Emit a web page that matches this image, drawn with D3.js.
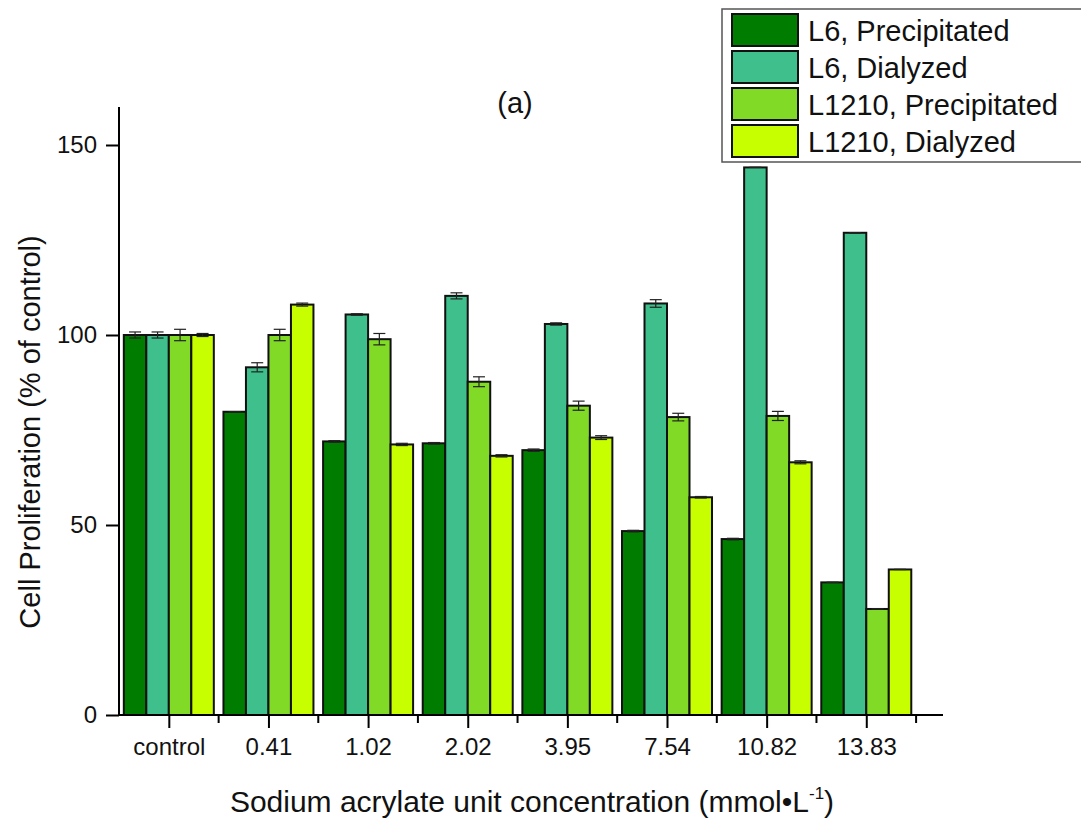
<!DOCTYPE html>
<html>
<head>
<meta charset="utf-8">
<script src="https://cdn.jsdelivr.net/npm/d3@7"></script>
<style>
  body { margin: 0; background: #fff; }
  text { font-family: Arial, "Liberation Sans", sans-serif; fill: #111; }
</style>
</head>
<body>
<svg id="chart" width="1081" height="821"></svg>
<script>
// Data.
const categories = ['control', '0.41', '1.02', '2.02', '3.95', '7.54', '10.82', '13.83']
const seriesNames = ['L6, Precipitated', 'L6, Dialyzed', 'L1210, Precipitated', 'L1210, Dialyzed']
const seriesColors = ['#007d00', '#3fbf8b', '#80da26', '#c8ff00']

const l6Precipitated    = [100, 79.8, 72.0, 71.5, 69.7, 48.4, 46.3, 34.9]
const l6Dialyzed        = [100, 91.5, 105.4, 110.3, 102.9, 108.3, 144.1, 126.9]
const l1210Precipitated = [100, 100, 98.9, 87.7, 81.4, 78.4, 78.7, 27.9]
const l1210Dialyzed     = [100, 108.0, 71.2, 68.2, 73.0, 57.3, 66.5, 38.3]

const l6PrecipitatedErr    = [0.8, 0, 0.2, 0.2, 0.3, 0.2, 0.2, 0]
const l6DialyzedErr        = [0.8, 1.2, 0.2, 0.8, 0.3, 1.0, 0, 0]
const l1210PrecipitatedErr = [1.5, 1.5, 1.5, 1.3, 1.2, 1.0, 1.2, 0]
const l1210DialyzedErr     = [0.4, 0.4, 0.3, 0.3, 0.5, 0.2, 0.4, 0]

const yTicks = [0, 50, 100, 150]

const series = [l6Precipitated, l6Dialyzed, l1210Precipitated, l1210Dialyzed]
const errors = [l6PrecipitatedErr, l6DialyzedErr, l1210PrecipitatedErr, l1210DialyzedErr]

// MARK: Layout.
const X0 = 119, X1 = 943, Y0 = 715, Y1 = 107

const svg = d3.select('#chart')

const x = d3.scaleLinear().domain([0.5, 8.77]).range([X0, X1])
const y = d3.scaleLinear().domain([0, 160]).range([Y0, Y1])
const groupWidth = 90
const inner = d3.scaleBand().domain(d3.range(4)).range([-groupWidth / 2, groupWidth / 2])

// Bars.
const rows = []
series.forEach((vals, s) => vals.forEach((v, i) => rows.push({ s, i, v, e: errors[s][i] })))

const bars = svg.append('g').attr('class', 'bars')
bars.selectAll('rect').data(rows).enter().append('rect')
  .attr('x'           , (d) => x(d.i + 1) + inner(d.s))
  .attr('y'           , (d) => y(d.v))
  .attr('width'       , inner.bandwidth())
  .attr('height'      , (d) => Y0 - y(d.v))
  .attr('fill'        , (d) => seriesColors[d.s])
  .attr('stroke'      , '#111')
  .attr('stroke-width', 2)

// Error bars.
const errs = svg.append('g').attr('class', 'errors')
  .attr('stroke', '#222').attr('stroke-width', 1.2)
rows.forEach((d) => {
  const cx = x(d.i + 1) + inner(d.s) + inner.bandwidth() / 2
  errs.append('line').attr('x1', cx).attr('x2', cx)
    .attr('y1', y(d.v + d.e)).attr('y2', y(d.v - d.e))
  ;[d.v + d.e, d.v - d.e].forEach((v) => {
    errs.append('line').attr('x1', cx - 6).attr('x2', cx + 6)
      .attr('y1', y(v)).attr('y2', y(v))
  })
})

// Axes.
const yAxis = svg.append('g').attr('transform', `translate(${X0},0)`)
  .call(d3.axisLeft(y).tickValues(yTicks).tickSize(13).tickPadding(9))
yAxis.select('.domain').attr('d', `M0,${Y0}V${Y1}`).attr('stroke-width', 2)
yAxis.selectAll('.tick line').attr('stroke-width', 2)
yAxis.selectAll('.tick text').style('font-size', '24px')

const xAxis = svg.append('g').attr('transform', `translate(0,${Y0})`)
  .call(d3.axisBottom(x).tickValues(d3.range(1, 9)).tickSize(13).tickPadding(10)
    .tickFormat((d) => categories[d - 1]))
xAxis.select('.domain').attr('d', `M${X0},0H${X1}`).attr('stroke-width', 2)
xAxis.selectAll('.tick line').attr('stroke-width', 2)
xAxis.selectAll('.tick text').style('font-size', '24px')
xAxis.selectAll('.minor').data(d3.range(1.5, 9, 1)).enter().append('line')
  .attr('x1', (d) => x(d)).attr('x2', (d) => x(d))
  .attr('y1', 0).attr('y2', 8)
  .attr('stroke', '#000').attr('stroke-width', 2)

// Titles.
svg.append('text').attr('x', 515).attr('y', 113).attr('text-anchor', 'middle')
  .style('font-size', '29px').text('(a)')

svg.append('text').attr('transform', 'translate(40,432) rotate(-90)')
  .attr('text-anchor', 'middle').style('font-size', '29px')
  .text('Cell Proliferation (% of control)')

const xl = svg.append('text').attr('x', 532).attr('y', 812).attr('text-anchor', 'middle')
  .style('font-size', '30px')
xl.append('tspan').text('Sodium acrylate unit concentration (mmol\u2022L')
xl.append('tspan').attr('dy', -13).style('font-size', '17px').text('-1')
xl.append('tspan').attr('dy', 13).text(')')

// Legend.
const legend = svg.append('g').attr('transform', 'translate(722,9)')
legend.append('rect').attr('width', 370).attr('height', 153)
  .attr('fill', '#fff').attr('stroke', '#555').attr('stroke-width', 1.5)
seriesNames.forEach((name, k) => {
  const g = legend.append('g').attr('transform', `translate(10,${5 + k * 37})`)
  g.append('rect').attr('width', 66).attr('height', 32)
    .attr('fill', seriesColors[k]).attr('stroke', '#111').attr('stroke-width', 2)
  g.append('text').attr('x', 76).attr('y', 27).style('font-size', '29px').text(name)
})
</script>
</body>
</html>
